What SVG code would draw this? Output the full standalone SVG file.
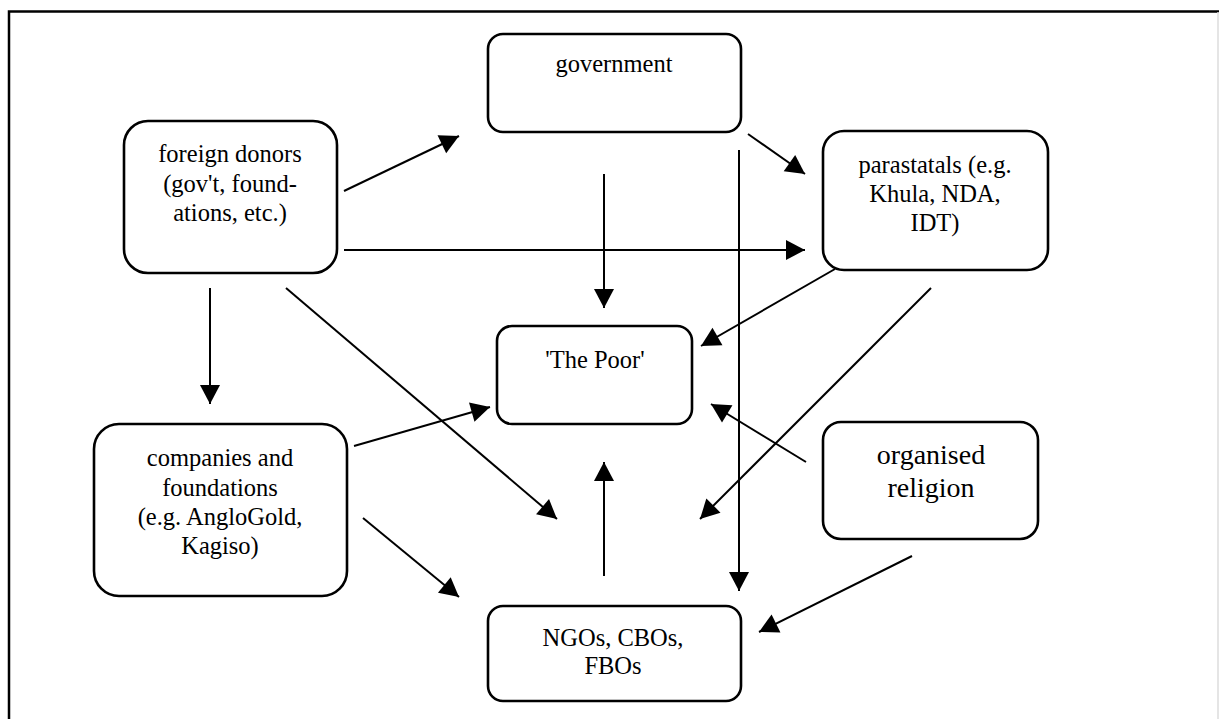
<svg xmlns="http://www.w3.org/2000/svg" width="1219" height="719" viewBox="0 0 1219 719">
<style>
.box{fill:#fff;stroke:#000;stroke-width:2.6}
.t{font-family:'Liberation Serif','DejaVu Serif',serif;font-size:24.5px;fill:#000;text-anchor:middle}
.tb{font-size:28px}
.c line{stroke:#000;stroke-width:2}
</style>
<defs>
<marker id="ah" markerUnits="userSpaceOnUse" markerWidth="20" markerHeight="21" refX="19" refY="10" orient="auto" overflow="visible">
<path d="M0,0 L19,10 L0,20 z" fill="#000"/>
</marker>
</defs>
<rect width="1219" height="719" fill="#fff"/>
<path d="M9,720 V11.5 H1219" fill="none" stroke="#000" stroke-width="2.5"/>
<line x1="1218" y1="12" x2="1218" y2="719" stroke="#ddd" stroke-width="1.5"/>
<g class="c">
<line x1="344" y1="191" x2="459" y2="136" marker-end="url(#ah)"/>
<line x1="344" y1="250" x2="805" y2="250" marker-end="url(#ah)"/>
<line x1="604" y1="174" x2="604" y2="308" marker-end="url(#ah)"/>
<line x1="739" y1="150" x2="739" y2="591" marker-end="url(#ah)"/>
<line x1="748" y1="134" x2="805" y2="174" marker-end="url(#ah)"/>
<line x1="835" y1="269" x2="701" y2="346" marker-end="url(#ah)"/>
<line x1="931" y1="288" x2="700" y2="519" marker-end="url(#ah)"/>
<line x1="806" y1="462" x2="711" y2="404" marker-end="url(#ah)"/>
<line x1="912" y1="556" x2="759" y2="632" marker-end="url(#ah)"/>
<line x1="210" y1="288" x2="210" y2="404" marker-end="url(#ah)"/>
<line x1="286" y1="288" x2="557" y2="519" marker-end="url(#ah)"/>
<line x1="354" y1="446" x2="490" y2="407" marker-end="url(#ah)"/>
<line x1="363" y1="518" x2="459" y2="597" marker-end="url(#ah)"/>
<line x1="604" y1="576" x2="604" y2="462" marker-end="url(#ah)"/>
</g>
<g id="foreign-donors">
<rect class="box" x="124" y="121" width="213" height="152" rx="24"/>
<text class="t" font-family="Liberation Serif, serif" x="230" y="162">foreign donors</text>
<text class="t" font-family="Liberation Serif, serif" x="230" y="192">(gov't, found-</text>
<text class="t" font-family="Liberation Serif, serif" x="230" y="221">ations, etc.)</text>
</g>
<g id="government">
<rect class="box" x="488" y="34" width="253" height="98" rx="15"/>
<text class="t" font-family="Liberation Serif, serif" x="614" y="72">government</text>
</g>
<g id="parastatals">
<rect class="box" x="823" y="131" width="225" height="139" rx="21"/>
<text class="t" font-family="Liberation Serif, serif" x="935" y="173">parastatals (e.g.</text>
<text class="t" font-family="Liberation Serif, serif" x="935" y="202">Khula, NDA,</text>
<text class="t" font-family="Liberation Serif, serif" x="935" y="231">IDT)</text>
</g>
<g id="the-poor">
<rect class="box" x="497" y="326" width="195" height="98" rx="15"/>
<text class="t" font-family="Liberation Serif, serif" x="595" y="368">'The Poor'</text>
</g>
<g id="companies">
<rect class="box" x="94" y="424" width="253" height="172" rx="25"/>
<text class="t" font-family="Liberation Serif, serif" x="220" y="466">companies and</text>
<text class="t" font-family="Liberation Serif, serif" x="220" y="496">foundations</text>
<text class="t" font-family="Liberation Serif, serif" x="220" y="525">(e.g. AngloGold,</text>
<text class="t" font-family="Liberation Serif, serif" x="220" y="554">Kagiso)</text>
</g>
<g id="ngos">
<rect class="box" x="488" y="606" width="253" height="95" rx="15"/>
<text class="t" font-family="Liberation Serif, serif" x="613" y="646">NGOs, CBOs,</text>
<text class="t" font-family="Liberation Serif, serif" x="613" y="674">FBOs</text>
</g>
<g id="organised-religion">
<rect class="box" x="823" y="422" width="215" height="117" rx="18"/>
<text class="t tb" font-family="Liberation Serif, serif" x="931" y="464">organised</text>
<text class="t tb" font-family="Liberation Serif, serif" x="931" y="497">religion</text>
</g>
</svg>
